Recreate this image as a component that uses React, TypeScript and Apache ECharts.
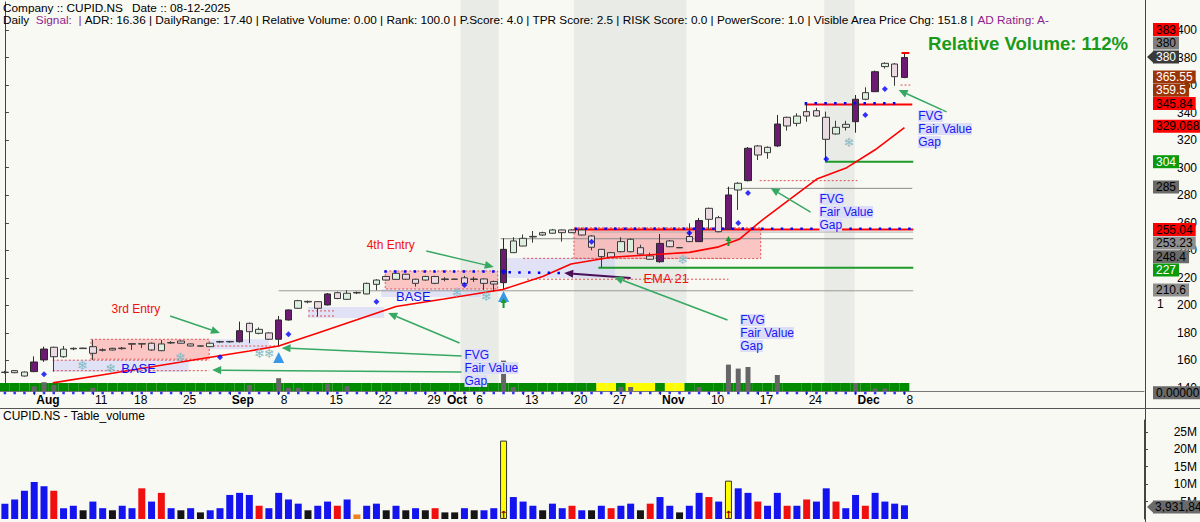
import React, { useEffect, useRef } from "react";
import * as echarts from "echarts";

const FONT = '"Liberation Sans", Arial, Helvetica, sans-serif';

// ---------------- data ----------------
const dates = ["07-29","07-30","07-31","08-01","08-04","08-05","08-06","08-07","08-08","08-11","08-12","08-13","08-14","08-18","08-19","08-20","08-21","08-22","08-25","08-26","08-27","08-28","08-29","09-01","09-02","09-03","09-04","09-05","09-08","09-09","09-10","09-11","09-12","09-15","09-16","09-17","09-18","09-19","09-22","09-23","09-24","09-25","09-26","09-29","09-30","10-01","10-02","10-03","10-06","10-07","10-08","10-09","10-10","10-13","10-14","10-15","10-16","10-17","10-20","10-21","10-23","10-24","10-27","10-28","10-29","10-30","10-31","11-03","11-04","11-05","11-06","11-07","11-10","11-11","11-12","11-13","11-14","11-17","11-18","11-19","11-20","11-21","11-24","11-25","11-26","11-27","11-28","12-01","12-02","12-03","12-04","12-05","12-08"];

const opens = [151.5,152.6,148.7,151.9,160.4,169.6,162.7,168.8,169.0,170.0,167.8,168.8,169.0,172.2,172.2,172.5,167.1,173.0,174.1,172.0,170.6,170.0,173.7,173.5,173.6,187.0,179.7,180.0,175.4,189.4,197.9,202.9,202.7,200.3,209.2,204.4,209.4,208.3,215.3,221.0,218.9,222.6,219.0,218.4,221.0,219.2,219.1,220.0,219.2,219.2,217.3,216.5,238.3,243.1,250.1,252.8,252.4,254.8,254.8,254.8,250.4,240.7,238.3,239.0,239.0,241.9,235.9,231.7,246.8,242.0,250.0,246.3,270.5,263.7,255.3,283.8,290.6,315.8,310.9,315.8,336.6,332.2,340.7,341.4,336.6,324.5,329.3,333.4,349.7,355.2,373.4,375.3,365.55];
const closes = [151.3,151.1,151.6,158.9,168.3,162.7,168.2,168.4,168.6,165.2,167.4,167.6,168.6,171.8,171.9,167.6,172.0,172.7,172.5,170.5,170.4,172.5,173.4,173.8,181.6,180.9,182.6,175.4,189.4,196.7,203.4,202.5,197.9,208.3,205.0,208.8,209.0,216.0,218.4,218.4,223.3,219.0,216.0,221.0,216.0,218.8,218.9,216.0,218.8,216.0,215.5,240.7,246.8,248.7,249.7,251.1,254.8,252.8,252.8,251.1,242.2,235.4,235.0,246.3,248.0,237.3,233.5,245.0,242.6,241.8,246.3,261.6,262.5,253.5,280.2,288.7,314.1,309.2,314.8,331.7,330.3,337.5,337.5,337.5,320.6,329.3,331.5,349.7,354.5,369.7,375.8,366.1,380.0];
const lows = [150.5,150.8,148.3,151.5,159.0,151.9,162.0,167.5,168.5,160.4,166.5,167.3,167.8,167.6,169.0,167.0,166.8,172.0,172.3,170.3,170.2,169.8,172.8,172.9,173.0,172.5,179.0,175.0,170.0,189.0,197.5,201.5,191.8,200.0,204.5,204.0,208.2,208.0,211.0,218.0,218.5,218.5,213.6,218.0,215.5,217.5,218.8,215.8,217.0,211.2,210.0,211.7,238.0,243.0,245.5,250.5,252.0,246.3,252.5,250.8,240.0,227.6,234.5,238.5,238.5,237.0,233.0,231.0,242.3,241.6,246.0,246.0,255.0,253.0,255.0,269.3,290.0,305.6,306.5,315.0,326.9,330.0,333.4,337.0,304.5,324.0,327.0,325.4,349.0,355.0,372.0,359.5,365.0];
const highs = [152.5,153.0,152.0,163.0,170.0,170.0,170.5,169.5,169.2,174.9,168.8,169.2,169.8,172.2,172.3,173.0,174.9,174.0,174.5,172.3,170.8,172.8,174.3,174.2,188.2,187.5,184.0,180.5,192.3,197.0,204.0,203.5,203.0,209.0,210.0,211.0,210.0,216.5,219.0,221.3,224.0,223.0,219.3,221.5,221.5,220.5,219.3,221.5,220.8,219.5,218.0,248.7,249.5,251.5,254.0,253.5,255.5,255.2,255.5,256.5,251.0,241.0,238.8,249.5,248.5,244.0,238.2,251.8,247.5,242.2,259.6,263.5,271.0,265.0,286.2,289.5,315.0,316.5,315.5,338.3,337.0,339.5,347.2,343.5,340.7,334.1,334.0,352.8,358.4,370.5,376.5,376.0,383.0];
// P = strong up (purple), G = up (light green), R = down (light pink)
const candleKinds = "RRGPPRGRRRRRRRRRGRRRRGRGPRGRPPGRRPRGRGGRGRRGRRRRRRRPGGRRGRRRRRRGGRRPRRRPRRPGPRGPRGRRRGGPGPGRP";

const ema21 = [[4.9,143.7],[9.9,149.5],[14.9,155.3],[19.9,161.1],[25,166.9],[28,170.5],[32,180],[36,189.5],[40,199.2],[44.9,204.6],[50.9,211.5],[55,221],[57.9,230],[62,235],[66.1,236.8],[70,238.5],[73,242.5],[75.1,248],[77.1,260],[80.1,276],[83.1,292],[86.1,300],[89,313],[92,329.1]];

const volumeM = [4.4,5.6,8.1,10.6,9.4,8.1,3.1,3.8,2.5,5,3.1,2.5,3.8,3.1,8.8,5,7.5,3.1,2.5,3.1,1.9,2.5,3.1,6.9,7.5,6.9,3.8,3.1,7.5,5.6,4.4,2.5,3.8,5,3.8,5.6,1.3,3.8,4.4,2.5,3.8,2.5,3.1,2.5,3.1,1.9,1.9,3.1,2.5,2.5,3.1,22.5,6.3,5,3.8,2.5,4.4,3.1,3.8,2.5,2.5,3.8,3.1,3.8,4.4,2.5,4.4,6.3,3.8,1.9,3.8,7.5,6.3,5,11,8.8,7.5,5,3.8,7.5,3.8,3.8,5.6,5,8.8,5,3.1,6.9,3.8,7.5,5,4.4,3.93];
const volumeKinds = "BBBBBRBBKBBKBBRBRBKBKBBBBBRBBBBKBBRBOBBKBKBKRKKBKBBYBBBKBBRBKBRBBKRBBKBBRBYBBRBBRBRBBRBBRBBBB";

const bandYellow = [61,62,64,65,66,68,69];
const indicatorBars = [[3,0.6],[4,1.1],[5,0.75],[9,0.4],[25,0.75],[28,1.6],[29,0.4],[30,0.4],[33,0.9],[35,0.6],[51,3.8],[52,0.5],[63,0.5],[64,0.5],[71,0.5],[74,3.3],[75,2.8],[76,3.0],[79,2.0],[87,1.0],[89,0.3],[90,0.3]];
const signalDots = [[4,150],[22,162.3],[29,179],[38,202.7],[47,214.8],[51,224.5],[60,246.3],[70,252.6],[75,259.8],[76,281.6],[84,306.3],[88,338.3],[90,357.2]];

const tickDates = ["08-01","08-11","08-18","08-25","09-01","09-08","09-15","09-22","09-29","10-01","10-06","10-13","10-20","10-27","11-03","11-10","11-17","11-24","12-01","12-08"];
const tickLabels = ["Aug","11","18","25","Sep","8","15","22","29","Oct","6","13","20","27","Nov","10","17","24","Dec","8"];
const priceTicks = [140,160,180,200,220,240,260,280,300,320,340,360,380,400];
const volumeTicks = [5,10,15,20,25];

const priceTagTexts = ["383","380","380","365.55","359.5","345.84","329.068","304","285","255.04","253.23","248.4","227","210.6","0.00000"];
const lastVolumeText = "3,931,842";

// ---------------- layout / styles ----------------
const N = 117;
const cats = [...dates, ...Array.from({ length: N - dates.length }, (_, k) => "pad" + k)];
const MAIN_BOTTOM = 391;
const tagY = [29.5, 43, 57, 77, 90.3, 103.5, 126.3, 161.7, 187, 229.5, 243, 256.7, 270, 290, 392.7];
const tagBg = ["#FF0000","#7F7F7F","#3A3A3A","#9C3406","#9C3406","#FF0000","#FF0000","#0A9A0A","#6A6A6A","#FF0000","#8E8E8E","#6A6A6A","#0A9A0A","#8E8E8E","#6A6A6A"];
const tagFg = ["#000","#000","#fff","#fff","#fff","#000","#000","#fff","#000","#000","#000","#000","#fff","#000","#000"];

const candleStyle: any = {
  P: { color: "#6C1A72", color0: "#6C1A72", borderColor: "#2A2A2A", borderColor0: "#2A2A2A", borderWidth: 1 },
  G: { color: "#DCEFDF", color0: "#DCEFDF", borderColor: "#3A3A3A", borderColor0: "#3A3A3A", borderWidth: 1 },
  R: { color: "#EBDAE2", color0: "#EBDAE2", borderColor: "#3A3A3A", borderColor0: "#3A3A3A", borderWidth: 1 },
};
const volColor: any = { B: "#1414F0", R: "#F01010", K: "#151515", Y: "#FFFF00", O: "#F08020" };

function buildOption() {
  const tickSet = new Set(tickDates);
  return {
    animation: false,
    backgroundColor: "#F9F9F4",
    textStyle: { fontFamily: FONT },
    grid: [
      { left: -3, right: 55, top: 2, bottom: 522 - MAIN_BOTTOM },
      { left: -3, right: 55, top: 420, bottom: 3 },
    ],
    xAxis: [
      {
        type: "category", gridIndex: 0, data: cats, boundaryGap: true,
        axisLine: { show: true, lineStyle: { color: "#777" } },
        axisTick: { show: true, alignWithLabel: true, interval: (i: number, v: string) => tickSet.has(v), length: 4, lineStyle: { color: "#555" } },
        axisLabel: {
          interval: (i: number, v: string) => tickSet.has(v), align: "left", margin: 3, padding: [0, 0, 0, 2],
          formatter: (v: string) => { const lab = tickLabels[tickDates.indexOf(v)] || ""; return /^[A-Z]/.test(lab) ? "{m|" + lab + "}" : "{d|" + lab + "}"; },
          rich: { m: { fontWeight: "bold", fontSize: 12, color: "#000", fontFamily: FONT }, d: { fontSize: 12, color: "#000", fontFamily: FONT } },
        },
        splitLine: { show: false },
      },
      { type: "value", gridIndex: 0, min: -0.5, max: N - 0.5, show: false },
      { type: "category", gridIndex: 1, data: cats, show: false },
    ],
    yAxis: [
      {
        type: "value", gridIndex: 0, position: "right", min: 137.82, max: 420.33, scale: true,
        axisLine: { show: true, lineStyle: { color: "#444" } },
        axisTick: { show: true, length: 4, customValues: priceTicks, lineStyle: { color: "#444" } },
        axisLabel: { customValues: priceTicks, align: "right", margin: 53, color: "#000", fontSize: 12, fontFamily: FONT },
        splitLine: { show: false },
      },
      { type: "value", gridIndex: 0, min: 0, max: 48.625, show: false },
      {
        type: "value", gridIndex: 1, position: "right", min: 0, max: 28.4e6,
        axisLine: { show: true, lineStyle: { color: "#444" } },
        axisTick: { show: true, length: 4, customValues: volumeTicks.map((v) => v * 1e6), lineStyle: { color: "#444" } },
        axisLabel: { customValues: volumeTicks.map((v) => v * 1e6), align: "right", margin: 53, color: "#000", fontSize: 12, fontFamily: FONT, formatter: (v: number) => Math.round(v / 1e6) + "M" },
        splitLine: { show: false },
      },
    ],
    series: [
      {
        type: "candlestick", xAxisIndex: 0, yAxisIndex: 0, barWidth: 7, z: 3,
        data: opens.map((o, i) => ({ value: [o, closes[i], lows[i], highs[i]], itemStyle: candleStyle[candleKinds[i]] })),
      },
      {
        type: "line", xAxisIndex: 1, yAxisIndex: 0, data: ema21, symbol: "none", z: 4,
        lineStyle: { color: "#FF0000", width: 1.6 },
      },
      {
        type: "scatter", xAxisIndex: 1, yAxisIndex: 0, data: signalDots, symbol: "diamond", symbolSize: 6, z: 5,
        itemStyle: { color: "#0000FF" },
      },
      {
        type: "bar", xAxisIndex: 0, yAxisIndex: 1, barCategoryGap: "0%", z: 1,
        data: dates.map((d, i) => ({ value: 1, itemStyle: { color: bandYellow.includes(i) ? "#FFFF00" : "#008A00" } })),
      },
      {
        type: "bar", xAxisIndex: 1, yAxisIndex: 1, barWidth: 5, z: 2,
        data: indicatorBars, itemStyle: { color: "#666" },
      },
      {
        type: "scatter", xAxisIndex: 1, yAxisIndex: 1, symbol: "rect", symbolSize: 2.5, symbolOffset: [0, 2], z: 2,
        data: dates.map((d, i) => [i, 0]), itemStyle: { color: "#0000FF" },
      },
      {
        type: "bar", xAxisIndex: 2, yAxisIndex: 2, barWidth: 7,
        data: volumeM.map((v, i) => ({ value: v * 1e6, itemStyle: { color: volColor[volumeKinds[i]], borderColor: volumeKinds[i] === "Y" ? "#333" : undefined, borderWidth: volumeKinds[i] === "Y" ? 1 : 0 } })),
      },
    ],
  };
}

function buildGraphics(chart: any) {
  const P = (x: number, p: number) => chart.convertToPixel({ seriesIndex: 2 }, [x, p]) as number[];
  const V = (x: number, v: number) => chart.convertToPixel({ seriesIndex: 6 }, [x, v]) as number[];
  const els: any[] = [];
  const font = (s = 12, w = "normal") => `${w} ${s}px ${FONT}`;

  const rectD = (x1: number, p1: number, x2: number, p2: number, style: any, z: number) => {
    const a = P(x1, p1), b = P(x2, p2);
    els.push({ type: "rect", z, silent: true, shape: { x: Math.min(a[0], b[0]), y: Math.min(a[1], b[1]), width: Math.abs(b[0] - a[0]), height: Math.abs(b[1] - a[1]) }, style });
  };
  const lineD = (x1: number, p1: number, x2: number, p2: number, style: any, z = 2) => {
    const a = P(x1, p1), b = P(x2, p2);
    els.push({ type: "line", z, silent: true, shape: { x1: a[0], y1: a[1], x2: b[0], y2: b[1] }, style });
  };
  const arrow = (x1: number, p1: number, x2: number, p2: number, color: string, width = 1.5, head = 9) => {
    const [ax, ay] = P(x1, p1), [bx, by] = P(x2, p2);
    const ang = Math.atan2(by - ay, bx - ax);
    const hx = bx - head * Math.cos(ang), hy = by - head * Math.sin(ang);
    const nx = -Math.sin(ang) * head * 0.45, ny = Math.cos(ang) * head * 0.45;
    els.push({ type: "line", z: 6, silent: true, shape: { x1: ax, y1: ay, x2: hx, y2: hy }, style: { stroke: color, lineWidth: width } });
    els.push({ type: "polygon", z: 6, silent: true, shape: { points: [[bx, by], [hx + nx, hy + ny], [hx - nx, hy - ny]] }, style: { fill: color } });
  };
  const textD = (x: number, p: number, text: string, style: any, z = 6) => {
    const [tx, ty] = P(x, p);
    els.push({ type: "text", z, silent: true, x: tx, y: ty, style: { text, verticalAlign: "middle", align: "left", font: font(), ...style } });
  };

  // vertical shaded periods
  [[46.6, 50.5], [58.2, 69.7], [83.8, 86.9]].forEach(([a, b]) => {
    const x1 = P(a, 300)[0], x2 = P(b, 300)[0];
    els.push({ type: "rect", z: 0, silent: true, shape: { x: x1, y: 0, width: x2 - x1, height: MAIN_BOTTOM }, style: { fill: "#E9EBE7" } });
  });

  // lavender zones
  const lav = { fill: "rgba(205,208,245,0.55)" };
  rectD(4.9, 160.4, 18.8, 151.6, lav, 1);
  rectD(20.9, 175.4, 27, 168.2, lav, 1);
  rectD(31, 198.8, 38.8, 190.8, lav, 1);
  rectD(38.5, 211.9, 48.7, 206.1, lav, 1);
  rectD(50.7, 234.4, 62.4, 219.9, lav, 1);

  // pink bases
  const pink = { fill: "rgba(250,165,165,0.62)", stroke: "#E05555", lineWidth: 1, lineDash: [2, 2] };
  rectD(8.8, 175.4, 20.9, 160.9, pink, 1);
  rectD(38.9, 225, 50.4, 211.9, pink, 1);
  rectD(58.2, 256.3, 77.3, 234, pink, 1);

  // dotted red levels
  const dr = { stroke: "#E05050", lineWidth: 1, lineDash: [2, 2] };
  lineD(4.9, 160.2, 20.9, 160.2, dr);
  lineD(4.9, 152.6, 20.9, 152.6, dr);
  lineD(20.9, 170.5, 28, 170.5, dr);
  lineD(31, 196, 33.7, 196, dr);
  lineD(31, 192.3, 33.7, 192.3, dr);
  lineD(53, 234.2, 74, 234.2, dr);
  lineD(53.4, 219, 74, 219, dr);
  lineD(77.2, 290.6, 87.2, 290.6, dr);
  lineD(91.6, 360, 92.6, 360, dr);

  // solid levels
  lineD(28, 210.6, 92.9, 210.6, { stroke: "#9A9A9A", lineWidth: 1 });
  lineD(50.7, 248.4, 92.9, 248.4, { stroke: "#8A8A8A", lineWidth: 1 });
  lineD(60, 253.23, 92.9, 253.23, { stroke: "#B0B0B0", lineWidth: 1 });
  lineD(73.8, 285, 92.8, 285, { stroke: "#8A8A8A", lineWidth: 1 });
  lineD(58.2, 255.04, 92.9, 255.04, { stroke: "#FF0000", lineWidth: 2 });
  lineD(81.8, 345.84, 92.8, 345.84, { stroke: "#FF0000", lineWidth: 2 });
  lineD(60.7, 227.4, 92.9, 227.4, { stroke: "#1E9A2A", lineWidth: 2 });
  lineD(83.9, 304.4, 92.9, 304.4, { stroke: "#1E9A2A", lineWidth: 2 });
  lineD(91.7, 383.3, 92.5, 383.3, { stroke: "#FF0000", lineWidth: 2 }, 6);

  // blue dotted rows
  const bd = { stroke: "#0000FF", lineWidth: 2.5, lineDash: [2.5, 7.3] };
  lineD(38.8, 224.6, 50.3, 224.6, bd, 5);
  lineD(51.5, 224, 57.3, 223.5, bd, 5);
  lineD(58.3, 255.7, 92.9, 255.7, bd, 5);
  lineD(81.8, 346.8, 91.8, 346.8, bd, 5);

  // snowflakes
  [[7.9, 156.7], [10.8, 154.5], [17.9, 162.5], [26, 164.7], [27, 164.7], [46.2, 209], [49.2, 206.1], [69.3, 233], [86.3, 318]].forEach(([x, p]) =>
    textD(x, p, "\u2744", { fill: "#86BCC6", align: "center", font: `13px "DejaVu Sans"` }, 5));

  // triangles and small green arrows
  [[28, 161.8], [51, 206]].forEach(([x, p]) => {
    const [cx, cy] = P(x, p);
    els.push({ type: "polygon", z: 6, silent: true, shape: { points: [[cx, cy - 6], [cx - 5.5, cy + 5], [cx + 5.5, cy + 5]] }, style: { fill: "#3A98E8" } });
  });
  [[51, 201.8], [74, 246.8]].forEach(([x, p]) => {
    const [cx, cy] = P(x, p);
    els.push({ type: "polygon", z: 6, silent: true, shape: { points: [[cx, cy - 5], [cx - 3, cy], [cx - 1, cy], [cx - 1, cy + 5], [cx + 1, cy + 5], [cx + 1, cy], [cx + 3, cy]] }, style: { fill: "#1C9A2A" } });
  });

  // arrows
  const ga = "#36A862";
  arrow(16.9, 192.3, 22, 180, ga);
  arrow(43.1, 239.5, 50.0, 227.9, ga);
  arrow(46.7, 163.3, 28.3, 169.1, ga);
  arrow(46.7, 151.6, 21.2, 153, ga);
  arrow(46.5, 172.7, 39.2, 194.5, ga);
  arrow(64, 219.9, 57.2, 223.5, "#4B0E57", 2);
  arrow(73.9, 189.4, 62.3, 220.6, ga);
  arrow(82.4, 267.8, 78.3, 285.3, ga);
  arrow(96.3, 340.5, 91.4, 356.4, ga);

  // texts
  textD(10.9, 197.4, "3rd Entry", { fill: "#F01010" });
  textD(37.0, 243.9, "4th Entry", { fill: "#F01010" });
  textD(11.9, 154.5, "BASE", { fill: "#1010F0", font: font(13) });
  textD(40.0, 206.1, "BASE", { fill: "#1010F0", font: font(13) });
  textD(65.3, 219.2, "EMA 21", { fill: "#F01010", font: font(13) });
  [[47, 164], [75.2, 189.4], [83.3, 277.3], [93.4, 337.5]].forEach(([x, p]) => {
    const [tx, ty] = P(x, p);
    ["FVG", "Fair Value", "Gap"].forEach((t, k) =>
      els.push({ type: "text", z: 6, silent: true, x: tx, y: ty + k * 13, style: { text: t, fill: "#1A1AF0", backgroundColor: "#DCDDF8", font: font(12), verticalAlign: "middle", align: "left" } }));
  });

  // header
  const hf = font(11.8);
  els.push({ type: "text", z: 8, silent: true, x: 3, y: 8, style: { text: "Company :: CUPID.NS", fill: "#000", font: hf, verticalAlign: "middle" } });
  els.push({ type: "text", z: 8, silent: true, x: 132, y: 8, style: { text: "Date :: 08-12-2025", fill: "#000", font: hf, verticalAlign: "middle" } });
  els.push({
    type: "text", z: 8, silent: true, x: 3, y: 20,
    style: {
      text: "{a|Daily  }{p|Signal:  | }{a|ADR: 16.36 | DailyRange: 17.40 | Relative Volume: 0.00 | Rank: 100.0 | P.Score: 4.0 | TPR Score: 2.5 | RISK Score: 0.0 | PowerScore: 1.0 | Visible Area Price Chg: 151.8 | }{p|AD Rating: A-}",
      font: hf, verticalAlign: "middle",
      rich: { a: { fill: "#000", font: hf }, p: { fill: "#8E1C8E", font: hf } },
    },
  });
  els.push({ type: "text", z: 8, silent: true, x: 928, y: 43, style: { text: "Relative Volume: 112%", fill: "#1A9A1A", font: font(18.6, "bold"), verticalAlign: "middle" } });
  els.push({ type: "text", z: 8, silent: true, x: 3, y: 416, style: { text: "CUPID.NS - Table_volume", fill: "#000", font: font(12), verticalAlign: "middle" } });

  // frame lines
  els.push({ type: "line", z: 7, silent: true, shape: { x1: 1145.5, y1: 0, x2: 1145.5, y2: 522 }, style: { stroke: "#444", lineWidth: 1 } });
  els.push({ type: "line", z: 7, silent: true, shape: { x1: 0, y1: 408.5, x2: 1200, y2: 408.5 }, style: { stroke: "#555", lineWidth: 1 } });

  // price tags
  priceTagTexts.forEach((t, k) => {
    const y = tagY[k];
    if (k === 2) {
      els.push({ type: "polygon", z: 9, silent: true, shape: { points: [[1147, y], [1154, y - 6.5], [1154, y + 6.5]] }, style: { fill: tagBg[k] } });
    }
    els.push({ type: "text", z: 10, silent: true, x: 1153, y, style: { text: t, fill: tagFg[k], backgroundColor: tagBg[k], padding: [1, 3, 0, 3], font: font(12), verticalAlign: "middle", align: "left" } });
  });
  els.push({ type: "text", z: 10, silent: true, x: 1157, y: 304, style: { text: "1", fill: "#000", font: font(12), verticalAlign: "middle" } });
  els.push({ type: "polygon", z: 9, silent: true, shape: { points: [[1147, 507], [1154, 500.5], [1154, 513.5]] }, style: { fill: "#6A6A6A" } });
  els.push({ type: "text", z: 10, silent: true, x: 1153, y: 507, style: { text: lastVolumeText, fill: "#000", backgroundColor: "#6A6A6A", padding: [1, 3, 0, 2], font: font(12), verticalAlign: "middle", align: "left" } });

  // small markers on the big-volume bars
  [51, 74].forEach((i) => {
    const [x, y] = V(i, 1.2e6);
    els.push({ type: "text", z: 6, silent: true, x, y, style: { text: "\u2191", fill: "#8B0000", font: `bold 10px "DejaVu Sans"`, align: "center", verticalAlign: "middle" } });
  });

  return els;
}

export default function App() {
  const ref = useRef<HTMLDivElement>(null);
  useEffect(() => {
    const chart = echarts.init(ref.current as HTMLDivElement, null, { renderer: "svg" });
    chart.setOption(buildOption() as any);
    chart.setOption({ graphic: { elements: buildGraphics(chart) } } as any);
    return () => chart.dispose();
  }, []);
  return <div ref={ref} style={{ position: "fixed", left: 0, top: 0, width: 1200, height: 522 }} />;
}
